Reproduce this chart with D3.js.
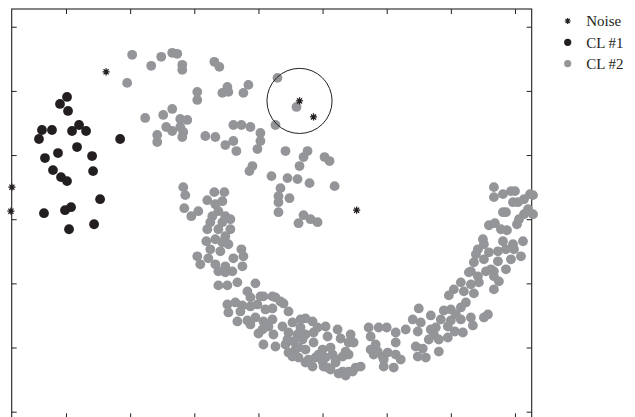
<!DOCTYPE html>
<html>
<head>
<meta charset="utf-8">
<script src="https://cdn.jsdelivr.net/npm/d3@7"></script>
<style>
  html, body { margin: 0; padding: 0; background: #fff; }
  svg { display: block; }
</style>
</head>
<body>
<svg id="chart" width="635" height="417"></svg>
<script>
// Cluster 2: the large two-armed crescent
const cluster2 = [
  [130,356],[125,328],[149,345],[159,354],[170,358],[175,357],[180,346],[180,341],
  [143,293],[161,296],[170,302],[164,284],[170,280],[155,276],[178,292],[185,291],[178,284],[181,279],[180,274],[155,269],
  [212,349],[217,344],[195,319],[195,311],[225,324],[220,318],[226,319],[246,326],[241,318],[275,333],[294,304],[273,286],
  [231,286],[239,286],[248,284],[258,278],[203,275],[213,274],[223,266],[231,270],[234,260],[258,270],[255,262],
  [283,260],[305,260],[301,254],[322,254],[327,250],[297,245],[250,245],[247,240],[269,235],[285,233],[295,232],[307,228],[332,225],
  [278,223],[276,215],[287,213],[276,209],[276,199],[301,196],[308,192],[315,189],[296,188],
  [181,224],[183,216],[212,219],[222,219],[205,211],[220,210],[182,203],[189,195],[196,200],[213,207],[216,200],[210,195],
  [223,195],[208,189],[220,189],[228,192],[205,182],[216,182],[228,182],[223,175],[204,170],[220,169],[208,162],[218,160],
  [195,155],[206,153],[239,162],[241,155],[231,153],[213,147],[223,145],[240,145],[230,140],[216,140],[223,139],
  [213,172],[226,167],[198,147],
  [216,126],[225,126],[235,129],[253,128],[245,120],[248,114],[258,115],[261,115],[270,115],[273,114],[278,110],[281,108],
  [225,107],[233,109],[240,106],[248,105],[255,107],[270,103],[286,100],[226,99],[238,100],[235,90],[245,91],[248,87],
  [261,90],[270,92],[260,82],[266,85],[256,78],[280,85],[290,89],[303,93],[310,90],[271,77],[261,67],[273,65],[286,79],
  [295,77],[303,77],[311,79],[323,85],[335,82],[348,77],[283,67],[291,70],[300,72],[293,62],[303,62],[311,69],[320,62],
  [325,75],[338,73],[346,69],[343,60],[296,54],[303,49],[313,54],[323,54],[321,45],[328,42],[333,49],[340,55],[346,40],
  [353,44],[310,45],[290,55],[286,59],[315,84],[285,72],[351,69],[296,64],[330,57],[346,57],[306,52],[320,50],[333,52],
  [325,44],[340,40],[358,45],[366,84],[368,75],[376,84],[373,67],[371,57],[380,55],[350,40],
  [298,84],[316,57],[328,64],[336,38],[343,36],[263,102],[298,92],[253,94],
  [384,84],[393,79],[393,69],[368,62],[375,60],[385,59],[393,57],[381,52],[398,52],[381,45],[391,44],[410,92],[418,89],
  [403,82],[415,80],[428,82],[431,77],[426,72],[436,72],[445,74],[413,65],[420,63],[436,60],[415,55],[423,54],[416,103],
  [428,96],[441,101],[448,102],[458,104],[438,92],[448,91],[458,92],[468,94],[485,97],[481,94],[470,86],[445,85],[452,80],
  [453,97],[433,84],[460,79],
  [463,109],[458,129],[468,127],[476,129],[461,120],[451,122],[446,116],[471,118],[491,122],[466,139],[483,140],[491,135],[475,135],
  [491,224],[491,214],[500,217],[508,220],[512,220],[527,217],[530,216],[521,212],[510,209],[515,209],[500,199],[503,199],
  [525,202],[530,197],[521,197],[516,192],[514,187],[486,186],[492,188],[504,181],[480,172],[481,167],[500,170],[510,167],
  [520,170],[475,162],[473,157],[486,159],[495,160],[503,162],[511,162],[518,155],[481,152],[495,150],[508,152],[471,149],
  [468,140],[491,140],[498,182],[488,142],[503,142],[496,130]
];

// Cluster 1: the small group on the left
const cluster1 = [
  [65,314],[58,307],[66,300],[40,281],[50,281],[77,286],[70,280],[84,280],[37,272],[118,272],
  [75,264],[43,253],[56,258],[90,255],[51,241],[59,234],[65,230],[91,240],[98,212],[42,198],
  [63,201],[69,204],[67,182],[92,187]
];

// Points labelled as noise
const noise = [
  [104,339],[297,310],[311,294],[10,224],[9,200],[354,201]
];

// Highlighted neighbourhood (centre and radius in data units)
const highlight = [{ cx: 297, cy: 310, r: 32.5 }];

// Tick positions (the axes carry no labels)
const xTicks = [64, 128, 192, 256, 320, 384, 448, 512];
const yTicks = [0, 64, 128, 192, 256, 320, 384];

const legendItems = [
  { label: "Noise", kind: "noise" },
  { label: "CL #1", kind: "cl1" },
  { label: "CL #2", kind: "cl2" }
];

const COLORS = { cl1: "#231f20", cl2: "#939598", noise: "#231f20", axis: "#231f20" };

const svg = d3.select("#chart");
svg.append("rect").attr("width", 635).attr("height", 417).attr("fill", "#fff");

const plotLeft = 11.7, plotRight = 531.7, plotTop = 9, plotBottom = 418.3;

const x = d3.scaleLinear().domain([9.8, 528.7]).range([plotLeft, plotRight]);
const y = d3.scaleLinear().domain([-6.6, 401.7]).range([plotBottom, plotTop]);

// Axes box with inward ticks on all four sides
const tickLen = 5;
function styleAxis(g) {
  g.select(".domain").remove();
  g.selectAll(".tick line").attr("stroke", COLORS.axis).attr("stroke-width", 1);
  g.selectAll(".tick text").remove();
}
svg.append("g").attr("transform", `translate(0,${plotBottom})`)
  .call(d3.axisBottom(x).tickValues(xTicks).tickSizeInner(-tickLen).tickSizeOuter(0).tickFormat(""))
  .call(styleAxis);
svg.append("g").attr("transform", `translate(0,${plotTop})`)
  .call(d3.axisTop(x).tickValues(xTicks).tickSizeInner(-tickLen).tickSizeOuter(0).tickFormat(""))
  .call(styleAxis);
svg.append("g").attr("transform", `translate(${plotLeft},0)`)
  .call(d3.axisLeft(y).tickValues(yTicks).tickSizeInner(-tickLen).tickSizeOuter(0).tickFormat(""))
  .call(styleAxis);
svg.append("g").attr("transform", `translate(${plotRight},0)`)
  .call(d3.axisRight(y).tickValues(yTicks).tickSizeInner(-tickLen).tickSizeOuter(0).tickFormat(""))
  .call(styleAxis);

svg.append("rect")
  .attr("x", plotLeft).attr("y", plotTop)
  .attr("width", plotRight - plotLeft).attr("height", plotBottom - plotTop)
  .attr("fill", "none").attr("stroke", COLORS.axis).attr("stroke-width", 1.1);

const R = 4.9;

// Cluster markers
svg.append("g").selectAll("circle").data(cluster2).join("circle")
  .attr("cx", d => x(d[0])).attr("cy", d => y(d[1])).attr("r", R)
  .attr("fill", COLORS.cl2);

svg.append("g").selectAll("circle").data(cluster1).join("circle")
  .attr("cx", d => x(d[0])).attr("cy", d => y(d[1])).attr("r", R)
  .attr("fill", COLORS.cl1);

// Asterisk marker: plus and cross overlaid
function asterisk(s) {
  const d = s * Math.SQRT1_2;
  return `M${-s},0L${s},0M0,${-s}L0,${s}M${-d},${-d}L${d},${d}M${-d},${d}L${d},${-d}`;
}

svg.append("g").selectAll("path").data(noise).join("path")
  .attr("transform", d => `translate(${x(d[0])},${y(d[1])})`)
  .attr("d", asterisk(3.6))
  .attr("fill", "none").attr("stroke", COLORS.noise).attr("stroke-width", 1.3);

// Neighbourhood circle
svg.append("g").selectAll("circle").data(highlight).join("circle")
  .attr("cx", d => x(d.cx)).attr("cy", d => y(d.cy))
  .attr("r", d => x(d.cx + d.r) - x(d.cx))
  .attr("fill", "none").attr("stroke", "#231f20").attr("stroke-width", 1);

// Legend
const legend = svg.append("g").attr("transform", "translate(567.7,21)");
const rows = legend.selectAll("g").data(legendItems).join("g")
  .attr("transform", (d, i) => `translate(0,${i * 21.3})`);
rows.each(function(d) {
  const g = d3.select(this);
  if (d.kind === "noise") {
    g.append("path").attr("d", asterisk(3)).attr("fill", "none")
      .attr("stroke", COLORS.noise).attr("stroke-width", 1.2);
  } else {
    g.append("circle").attr("r", 3.6).attr("fill", COLORS[d.kind]);
  }
  g.append("text").attr("x", 18.5).attr("y", 5.2)
    .attr("font-family", "'Liberation Serif', 'Times New Roman', serif")
    .attr("font-size", 15).attr("fill", "#231f20")
    .text(d.label);
});
</script>
</body>
</html>
